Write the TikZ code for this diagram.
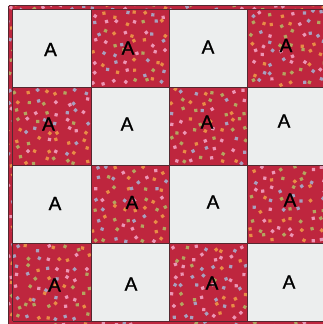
\documentclass[tikz,border=0pt]{standalone}
\usepackage{fontspec}
\setmainfont{Liberation Sans}
\newfontfamily\quiltletterfont{Liberation Sans}[BoldFont={Liberation Sans},BoldFeatures={FakeBold=1.2}]
\definecolor{quiltred}{RGB}{190,38,62}
\definecolor{quiltwhite}{RGB}{236,238,238}
\definecolor{seam}{RGB}{85,40,48}
\definecolor{dot0}{RGB}{236,150,180}
\definecolor{dot1}{RGB}{232,140,70}
\definecolor{dot2}{RGB}{180,165,95}
\definecolor{dot3}{RGB}{168,160,190}
\newcommand\quiltdots[6]{%
  \begin{scope}
  \clip (#1,#2) rectangle (#3,#4);
  \foreach \i in {0,...,#5}{%
    \foreach \j in {0,...,#6}{%
      \pgfmathsetmacro\px{#1+(\i+0.5)*(#3-#1)/(#5+1)+(rnd-0.5)*7}%
      \pgfmathsetmacro\py{#2+(\j+0.5)*(#4-#2)/(#6+1)+(rnd-0.5)*7}%
      \pgfmathsetmacro\ang{rnd*90}%
      \pgfmathtruncatemacro\cc{int(rnd*4)}%
      \fill[dot\cc,rotate around={\ang:(\px,\py)}] (\px-1.6,\py-1.6) rectangle (\px+1.6,\py+1.6);
    }%
  }%
  \end{scope}}
\begin{document}
\begin{tikzpicture}[x=1pt,y=-1pt,
  redpatch/.style={fill=quiltred},
  whitepatch/.style={fill=quiltwhite},
  seamline/.style={draw=seam,line width=0.8pt},
  letter/.style={font=\quiltletterfont\bfseries\fontsize{19}{19}\selectfont,text=black,inner sep=0pt}]
\pgfmathsetseed{7}
\useasboundingbox (0,0) rectangle (323,324);
\fill[white] (0,0) rectangle (323,324);
% outer red border strip
\fill[redpatch] (8.5,5.5) rectangle (330,330);
\quiltdots{8.5}{5.5}{330}{9}{31}{0}
\quiltdots{8.5}{5.5}{12.5}{330}{0}{31}
\quiltdots{8.5}{321}{330}{330}{31}{0}
% patches
\foreach \r in {0,...,3}{
  \foreach \c in {0,...,3}{
    \pgfmathsetmacro\xa{12.5+78.4*\c}
    \pgfmathsetmacro\ya{9+78*\r}
    \pgfmathsetmacro\xb{\xa+78.4}
    \pgfmathsetmacro\yb{\ya+78}
    \pgfmathtruncatemacro\odd{mod(\r+\c,2)}
    \ifnum\odd=1
      \fill[redpatch] (\xa,\ya) rectangle (\xb,\yb);
      \quiltdots{\xa}{\ya}{\xb}{\yb}{7}{7}
    \else
      \fill[whitepatch] (\xa,\ya) rectangle (\xb,\yb);
    \fi
  }
}
% seams
\draw[seamline] (8.5,5.5) -- (330,5.5);
\draw[seamline] (8.5,5.5) -- (8.5,330);
\foreach \c in {0,...,4}{\draw[seamline] ({12.5+78.4*\c},9) -- ({12.5+78.4*\c},321);}
\foreach \r in {0,...,4}{\draw[seamline] (12.5,{9+78*\r}) -- (330,{9+78*\r});}
% letters
\node[letter] (a11) at (50.5,49.5) {A};
\node[letter] (a12) at (128,48) {A};
\node[letter] (a13) at (208,47) {A};
\node[letter] (a14) at (286,45.5) {A};
\node[letter] (a21) at (48.5,124) {A};
\node[letter] (a22) at (127,124) {A};
\node[letter] (a23) at (207,122) {A};
\node[letter] (a24) at (284,121) {A};
\node[letter] (a31) at (55,203.5) {A};
\node[letter] (a32) at (132,202.5) {A};
\node[letter] (a33) at (213,202) {A};
\node[letter] (a34) at (290,200) {A};
\node[letter] (a41) at (54.5,285) {A};
\node[letter] (a42) at (131,284) {A};
\node[letter] (a43) at (212,283) {A};
\node[letter] (a44) at (289,282) {A};
\end{tikzpicture}
\end{document}
